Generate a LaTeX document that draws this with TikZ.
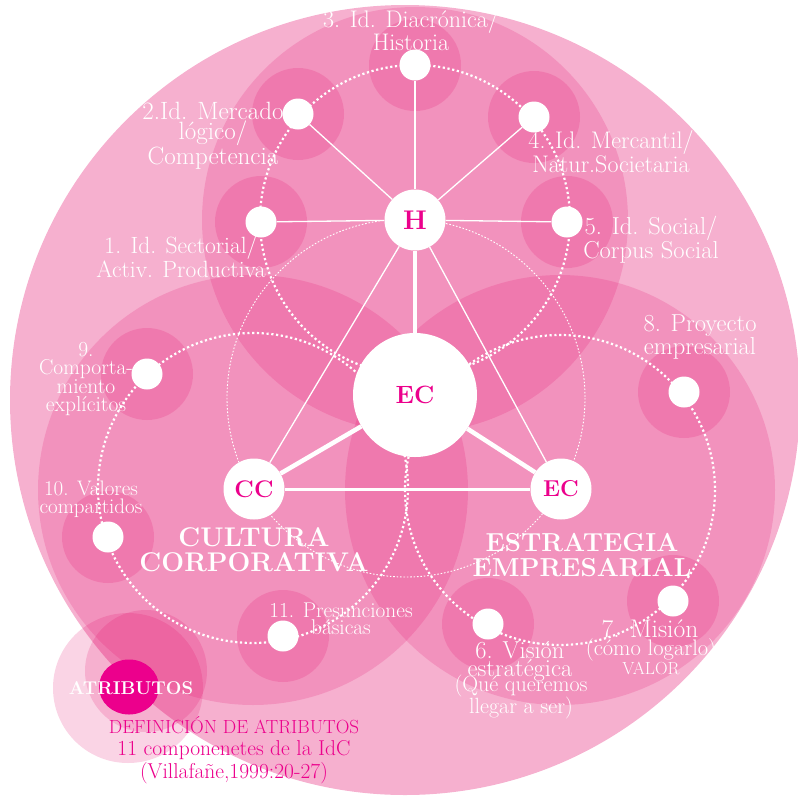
\documentclass[tikz,border=0pt]{standalone}
\usepackage{fontspec}
\usetikzlibrary{positioning}
\definecolor{rosa}{HTML}{EC008C}
\definecolor{rosacapa}{HTML}{E10064}

\begin{document}
\begin{tikzpicture}[x=1pt, y=-1pt,
  capa/.style={fill=rosacapa, fill opacity=0.17},
  punteado/.style={draw=white, line width=2.2pt, dash pattern=on 2.2pt off 2.6pt},
  fino/.style={draw=white, line width=0.9pt, dash pattern=on 1.6pt off 1.8pt},
  sat/.style={circle, fill=white, minimum size=31pt, inner sep=0pt},
  eje/.style={circle, fill=white, minimum size=61pt, inner sep=0pt, text=rosa, font=\bfseries\fontsize{24}{24}\selectfont},
  lbl/.style={text=white, align=center, inner sep=0pt, font=\fontsize{24.5}{18.5}\selectfont},
  titulo/.style={text=white, align=center, inner sep=0pt, font=\bfseries\fontsize{26}{24.5}\selectfont},
  enlace/.style={draw=white, line width=1.3pt},
  grueso/.style={draw=white, line width=4.5pt}
]
\useasboundingbox (0,0) rectangle (798,796);

% fondos
\fill[rosacapa, fill opacity=0.31] (405,400) circle (395);
\fill[capa] (128,688) circle (75);
\fill[capa] (415,220) circle (213);
\fill[capa] (253,490) circle (215);
\fill[capa] (560,490) circle (215);

% halos de los componentes
\fill[capa] (261,222) circle (46);
\fill[capa] (298,114) circle (46);
\fill[capa] (415,65) circle (46);
\fill[capa] (534,117) circle (46);
\fill[capa] (567,222) circle (46);
\fill[capa] (488,624) circle (46);
\fill[capa] (673,601) circle (46);
\fill[capa] (684,392) circle (46);
\fill[capa] (147,374) circle (46);
\fill[capa] (108,537) circle (46);
\fill[capa] (283,636) circle (46);
\fill[capa] (146,671) circle (61);

% circulos punteados
\draw[fino] (406,398) circle (179);
\draw[punteado] (415,220) circle (155);
\draw[punteado] (253,488) circle (155);
\draw[punteado] (560,490) circle (155);

% nodos
\node[eje, minimum size=124pt, font=\bfseries\fontsize{25}{25}\selectfont] (ecc) at (415,395) {EC};
\node[eje, font=\bfseries\fontsize{27}{27}\selectfont] (h) at (415,220) {H};
\node[eje] (cc) at (254,489) {CC};
\node[eje, font=\bfseries\fontsize{23}{23}\selectfont] (ec) at (561,489) {EC};

\node[sat] (s1) at (261,222) {};
\node[sat] (s2) at (298,114) {};
\node[sat] (s3) at (415,65) {};
\node[sat] (s4) at (534,117) {};
\node[sat] (s5) at (567,222) {};
\node[sat] (s6) at (488,624) {};
\node[sat] (s7) at (673,601) {};
\node[sat] (s8) at (684,392) {};
\node[sat] (s9) at (147,374) {};
\node[sat] (s10) at (108,537) {};
\node[sat] (s11) at (283,636) {};

% enlaces
\draw[grueso] (h) -- (ecc);
\draw[grueso] (cc) -- (ecc);
\draw[grueso] (ec) -- (ecc);
\draw[draw=white, line width=3pt] (cc) -- (ec);
\draw[enlace] (h) -- (cc);
\draw[enlace] (h) -- (ec);
\draw[enlace] (h) -- (s1);
\draw[enlace] (h) -- (s2);
\draw[enlace, line width=2pt] (h) -- (s3);
\draw[enlace] (h) -- (s4);
\draw[enlace] (h) -- (s5);

% textos
\node[lbl, font=\fontsize{24}{19}\selectfont] (t3) at (411,30) {3. Id. Diacrónica/\\Historia};
\node[lbl, font=\fontsize{25}{18}\selectfont] (t2) at (213,136) {2.Id. Mercado\\lógico/\\Competencia};
\node[lbl, font=\fontsize{23.5}{19}\selectfont] (t1) at (181,257) {1. Id. Sectorial/\\Activ. Productiva};
\node[lbl, font=\fontsize{24}{18.5}\selectfont] (t4) at (611,152) {4. Id. Mercantil/\\Natur.Societaria};
\node[lbl, font=\fontsize{24.5}{18.5}\selectfont] (t5) at (651,240) {5. Id. Social/\\Corpus Social};
\node[lbl, font=\fontsize{24.5}{17.5}\selectfont] (t8) at (700,337) {8. Proyecto\\empresarial};
\node[lbl, font=\fontsize{21.5}{17.5}\selectfont] (t9) at (86,379) {9.\\Comporta-\\miento\\explícitos};
\node[lbl, font=\fontsize{21}{18}\selectfont] (t10) at (91,499) {10. Valores\\compartidos};
\node[lbl, font=\fontsize{21.3}{17}\selectfont] (t11) at (341,619) {11. Presunciones\\básicas};
\node[lbl, font=\fontsize{24.5}{18}\selectfont] (t6) at (520,661) {6. Visión\\estratégica};
\node[lbl, font=\fontsize{22}{17}\selectfont] (t6b) at (521,697) {(Qué queremos\\llegar a ser)};
\node[lbl, font=\fontsize{25.5}{18}\selectfont] (t7) at (650,629) {7. Misión};
\node[lbl, font=\fontsize{22.5}{17}\selectfont] (t7b) at (651,657) {(cómo logarlo)\\{\fontsize{17.5}{17}\selectfont VALOR}};

\node[titulo, font=\bfseries\fontsize{27}{25}\selectfont] (tcc) at (254,550) {CULTURA\\CORPORATIVA};
\node[titulo] (tec) at (582,555) {ESTRATEGIA\\EMPRESARIAL};

% atributos
\fill[rosa] (129,687) ellipse (30 and 27.5);
\node[titulo, font=\bfseries\fontsize{18.5}{18.5}\selectfont] (atr) at (131,688) {ATRIBUTOS};
\node[lbl, text=rosa, font=\fontsize{21.5}{22.5}\selectfont] (def) at (234,750)
  {{\fontsize{19}{19}\selectfont DEFINICIÓN DE ATRIBUTOS}\\11 componenetes de la IdC\\(Villafañe,1999:20-27)};
\end{tikzpicture}
\end{document}
